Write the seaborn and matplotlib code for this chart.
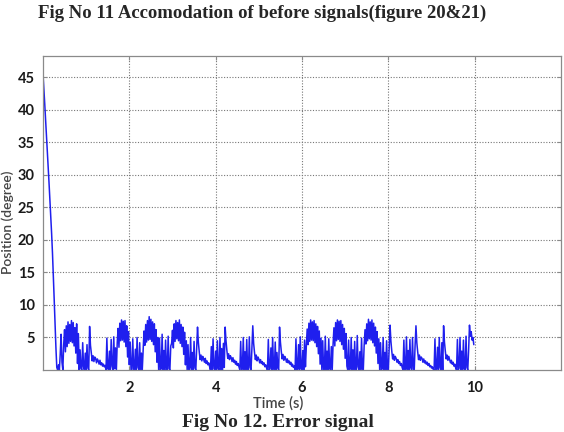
import matplotlib
matplotlib.use("Agg")
import matplotlib.pyplot as plt
import numpy as np
import pandas as pd
import seaborn as sns

# error signal, one sample every 0.02 s
dt = 0.02
error_0_2 = [45.6, 43.4, 41.0, 38.6, 36.2, 33.8, 31.3, 28.8, 26.2, 23.6, 21.0, 18.0, 14.5, 10.8, 7.0, 3.4, 0.4,
             0.0, 0.8, 0.0, 2.5, 5.5, 1.2, 0.0,
             3.9, 6.2, 2.8, 6.8, 3.6, 7.4, 4.1, 7.0, 4.4, 7.6, 4.2, 7.3, 3.7, 6.5, 2.6, 7.1, 1.0, 5.6,
             0.0, 3.1, 0.2, 0.0, 4.2, 0.5, 0.0, 2.6, 0.0, 3.9, 0.3, 0.0,
             6.7,
             3.8, 2.6, 1.4, 2.2, 1.3, 2.0, 1.8, 1.1, 1.7, 1.4, 0.9, 1.5,
             0.8, 1.1, 0.6, 0.9, 0.5, 0.7,
             0.0, 4.9, 0.3, 0.0, 2.9, 0.0, 4.7, 0.6, 0.0, 5.1, 0.2, 3.4, 0.0,
             4.2, 6.4, 3.5, 7.2, 4.5, 7.7, 4.6, 7.5, 4.3, 7.6, 3.6, 6.8, 2.0, 5.9]
error_2_4 = [0.8, 4.3, 0.0,
             0.0, 4.8, 0.2, 0.0, 3.2, 0.0, 5.0, 0.4, 0.0, 4.2, 0.0, 2.6, 0.0,
             3.0, 6.0, 3.8, 7.0, 4.3, 7.6, 4.6, 8.2, 4.7, 7.8, 4.4, 7.4, 3.9, 7.1, 2.8, 6.2, 1.2, 5.0,
             0.0, 4.9, 0.0, 0.3, 5.5, 0.0, 3.0, 0.0, 4.6, 0.5, 0.0, 5.2, 0.2, 0.0, 3.7,
             4.1, 6.1, 3.4, 7.1, 4.4, 7.6, 4.8, 7.3, 4.5, 7.7, 4.1, 7.0, 3.6, 6.6, 2.4, 5.8, 0.8, 4.5,
             0.0, 3.9, 0.0, 0.4, 5.0, 0.0, 2.7, 0.0, 4.4, 0.3, 0.0, 3.2,
             6.6,
             4.2, 2.8, 1.6, 2.3, 1.4, 2.1, 1.7, 1.2, 1.8, 1.0, 1.4, 0.8, 1.1, 0.5,
             0.0, 3.6, 0.0, 4.8, 0.2, 0.0]
error_4_6 = [2.9, 0.0, 4.5, 0.3, 0.0, 5.0, 0.0, 3.3, 0.0, 4.1, 0.4,
             6.6,
             4.5, 3.0, 1.8, 2.5, 1.6, 2.2, 1.9, 1.3, 1.9, 1.2, 1.5, 0.9, 1.3, 0.7, 1.0, 0.5,
             0.0, 4.4, 0.0, 0.3, 5.0, 0.0, 2.8, 0.0, 4.7, 0.2, 0.0, 5.1, 0.4, 0.0, 3.5,
             6.8,
             4.1, 2.7, 1.6, 2.3, 1.4, 2.0, 1.7, 1.1, 1.6, 1.0, 1.3, 0.8, 1.1, 0.5, 0.8, 0.3,
             0.0, 4.7, 0.0, 0.2, 3.4, 0.0, 5.0, 0.5, 0.0, 4.3, 0.0, 2.7, 0.3, 0.0,
             6.6,
             4.3, 2.9, 1.7, 2.4, 1.5, 2.1, 1.8, 1.2, 1.7, 1.1, 1.4, 0.9, 1.2, 0.6, 0.9, 0.4, 0.6,
             0.0, 4.8, 0.0, 0.3, 3.9, 0.0, 5.1, 0.2]
error_6_8 = [0.0, 3.0, 0.0, 4.6, 0.5,
             3.6, 6.3, 3.9, 7.2, 4.4, 7.7, 4.6, 7.4, 4.5, 7.6, 4.2, 7.1, 3.6, 6.7, 2.5, 6.0, 0.9, 4.9,
             0.0, 4.5, 0.0, 0.2, 5.2, 0.0, 2.9, 0.0, 4.8, 0.4, 0.0, 3.6, 0.0,
             4.0, 6.5, 3.7, 7.3, 4.5, 7.7, 4.7, 7.5, 4.4, 7.6, 3.9, 7.0, 3.2, 6.4, 1.8, 5.6, 0.6,
             0.0, 4.6, 0.0, 0.3, 5.0, 0.0, 3.1, 0.0, 4.4, 0.2, 0.0, 5.3, 0.5, 0.0, 2.8, 0.0, 4.9, 0.3, 0.0,
             3.8, 6.2, 4.0, 7.1, 4.5, 7.8, 4.8, 7.4, 4.6, 7.7, 4.2, 7.2, 3.7, 6.6, 2.6, 5.9, 1.0, 4.8,
             0.0, 4.2, 0.0, 0.3, 5.0, 0.0, 2.7, 0.0, 4.5, 0.2]
error_8_10 = [0.0, 3.4,
              6.9,
              4.4, 2.9, 1.7, 2.4, 1.5, 2.1, 1.8, 1.2, 1.6, 1.0, 1.3, 0.7, 1.0, 0.4,
              0.0, 4.6, 0.0, 0.3, 5.1, 0.0, 3.0, 0.0, 4.7, 0.4, 0.0, 5.0, 0.2, 0.0, 3.8,
              6.8,
              4.2, 2.8, 1.6, 2.3, 1.5, 2.0, 1.8, 1.2, 1.7, 1.1, 1.4, 0.9, 1.2, 0.7, 1.0, 0.5, 0.7, 0.3, 0.5, 0.1,
              0.0, 4.8, 0.0, 0.2, 3.5, 0.0, 5.0, 0.4, 0.0, 4.2, 0.0,
              6.8,
              4.3, 2.9, 1.7, 2.3, 1.5, 2.1, 1.6, 1.1, 1.5, 0.9, 1.2, 0.6, 0.9, 0.3,
              0.0, 4.7, 0.0, 0.3, 5.0, 0.0, 2.9, 0.0, 4.6, 0.3, 0.0, 5.2, 0.4, 0.0, 3.1,
              6.9,
              5.2, 5.9, 4.6, 5.0, 3.9]

x_ticks = [2, 4, 6, 8, 10]
y_ticks = [5, 10, 15, 20, 25, 30, 35, 40, 45]

err = pd.DataFrame({'error': error_0_2 + error_2_4 + error_4_6 + error_6_8 + error_8_10})
err['time'] = np.arange(len(err)) * dt

sns.set_style("ticks")
plt.rcParams['font.family'] = ['Lato', 'DejaVu Sans']

fig = plt.figure(figsize=(5.64, 4.32), dpi=100)
ax = fig.add_axes([0.0762, 0.1435, 0.9185, 0.727])

sns.lineplot(data=err, x='time', y='error', color='#1f1fee', linewidth=1.1, ax=ax)

ax.set_xlim(0, 12)
ax.set_ylim(0, 48.3)
ax.set_xticks(x_ticks)
ax.set_yticks(y_ticks)
ax.grid(True, linestyle=(0, (1, 1.5)), color='#777777', linewidth=0.8)
for s in ax.spines.values():
    s.set_color('#8a8a8a')
    s.set_linewidth(0.9)
ax.tick_params(direction='in', length=3, color='#8a8a8a', top=True, right=True,
               labelsize=10.5, labelcolor='#1a1a1a')
ax.tick_params(axis='y', pad=6)
ax.tick_params(axis='x', pad=8)
for lab in ax.get_xticklabels() + ax.get_yticklabels():
    lab.set_fontweight('bold')

ax.set_xlabel('Time (s)', fontsize=10.5, color='#444444', fontweight='semibold')
ax.set_ylabel('Position (degree)', fontsize=10, color='#444444', fontweight='semibold')
ax.xaxis.set_label_coords(0.454, -0.085)
ax.yaxis.set_label_coords(-0.055, 0.47)

fig.text(0.465, 0.97, 'Fig No 11 Accomodation of before signals(figure 20&21)',
         family='Liberation Serif', fontweight='bold', fontsize=13.5, ha='center', va='center')
fig.text(0.493, 0.022, 'Fig No 12. Error signal',
         family='Liberation Serif', fontweight='bold', fontsize=14, ha='center', va='center')

fig.savefig('out.png', dpi=100)
